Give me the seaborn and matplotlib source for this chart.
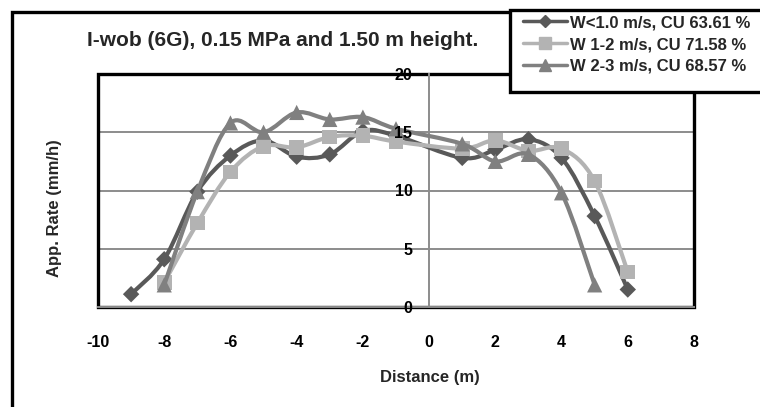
import numpy as np
import pandas as pd
import matplotlib
matplotlib.use("Agg")
import matplotlib.pyplot as plt
from matplotlib.path import Path
from matplotlib.patches import PathPatch, Rectangle
from matplotlib.lines import Line2D
import seaborn as sns

# datos
dist_w1 = [-9, -8, -7, -6, -5, -4, -3, -2, -1, 1, 2, 3, 4, 5, 6]
rate_w1 = [1.1, 4.1, 9.9, 13.0, 14.3, 12.9, 13.1, 15.1, 14.7, 12.8, 13.5, 14.4, 12.8, 7.8, 1.5]

dist_w2 = [-8, -7, -6, -5, -4, -3, -2, -1, 1, 2, 3, 4, 5, 6]
rate_w2 = [2.1, 7.2, 11.6, 13.8, 13.7, 14.6, 14.7, 14.2, 13.6, 14.3, 13.4, 13.6, 10.8, 3.0]

dist_w3 = [-8, -7, -6, -5, -4, -3, -2, -1, 1, 2, 3, 4, 5]
rate_w3 = [1.9, 9.9, 15.8, 15.0, 16.7, 16.1, 16.3, 15.3, 14.0, 12.5, 13.1, 9.8, 1.9]

labels = ["W<1.0 m/s, CU 63.61 %", "W 1-2 m/s, CU 71.58 %", "W 2-3 m/s, CU 68.57 %"]
colors = ["#595959", "#b3b3b3", "#808080"]
markers = ["D", "s", "^"]
msizes = [70, 110, 120]

x_ticks = [-10, -8, -6, -4, -2, 0, 2, 4, 6, 8]
y_ticks = [0, 5, 10, 15, 20]

sns.set_style("white")
plt.rcParams['font.family'] = ['Liberation Sans', 'DejaVu Sans']
plt.rcParams['font.weight'] = 'bold'


def smooth_path(xs, ys):
    # curva suavizada tipo Excel (Bezier con puntos de control)
    pts = np.column_stack([xs, ys]).astype(float)
    n = len(pts)
    verts = [pts[0]]
    codes = [Path.MOVETO]
    for i in range(n - 1):
        p0 = pts[i - 1] if i > 0 else pts[i]
        p1 = pts[i]
        p2 = pts[i + 1]
        p3 = pts[i + 2] if i + 2 < n else pts[i + 1]
        c1 = p1 + (p2 - p0) / 6.0
        c2 = p2 - (p3 - p1) / 6.0
        verts += [c1, c2, p2]
        codes += [Path.CURVE4] * 3
    return Path(verts, codes)


fig = plt.figure(figsize=(7.6, 4.07), dpi=100)

# marco exterior del grafico
fig.patches.append(Rectangle((12 / 760, -0.2), 1.2, 1.2 - 12 / 407,
                             transform=fig.transFigure, fill=False, ec='black', lw=2.4))

ax = fig.add_axes([98 / 760, 1 - 307 / 407, 596 / 760, 233 / 407])

series = [(dist_w1, rate_w1), (dist_w2, rate_w2), (dist_w3, rate_w3)]
for i, (xs, ys) in enumerate(series):
    ax.add_patch(PathPatch(smooth_path(xs, ys), fill=False, ec=colors[i], lw=3.0,
                           zorder=3 + i, capstyle='round', joinstyle='round'))
    df = pd.DataFrame({'x': xs, 'y': ys})
    sns.scatterplot(data=df, x='x', y='y', ax=ax, marker=markers[i], s=msizes[i],
                    color=colors[i], edgecolor='none', zorder=3.5 + i, legend=False)

ax.set_xlim(-10, 8)
ax.set_ylim(0, 20)
ax.set_xticks(x_ticks)
ax.set_yticks(y_ticks)
ax.set_xticklabels([str(v) for v in x_ticks])
ax.set_yticklabels([str(v) for v in y_ticks])

# lineas de rejilla
for v in [5, 10, 15]:
    ax.axhline(v, color='#8c8c8c', lw=1.4, zorder=1)

# eje y cruzando en x = 0
for s in ['top', 'right']:
    ax.spines[s].set_visible(False)
ax.spines['left'].set_position(('data', 0))
ax.spines['left'].set_color('#8c8c8c')
ax.spines['left'].set_linewidth(1.4)
ax.spines['bottom'].set_color('#8c8c8c')
ax.spines['bottom'].set_linewidth(1.4)
ax.tick_params(axis='both', direction='out', color='#8c8c8c', length=4, width=1.4,
               labelsize=11.5, labelcolor='black')
ax.tick_params(axis='x', pad=16)
ax.tick_params(axis='y', pad=8)
for t in ax.get_xticklabels() + ax.get_yticklabels():
    t.set_fontweight('bold')
ax.yaxis.set_zorder(6)

# marco negro del area de trazado
ax.add_patch(Rectangle((0, 0), 1, 1, transform=ax.transAxes, fill=False,
                       ec='black', lw=2.4, clip_on=False, zorder=2))

ax.set_xlabel('Distance (m)', fontsize=12, fontweight='bold')
ax.xaxis.set_label_coords((430 - 98) / 596, (307 - 370) / 233)
ax.set_ylabel('App. Rate (mm/h)', fontsize=12, fontweight='bold')
ax.yaxis.set_label_coords((62 - 98) / 596, (307 - 208) / 233)

fig.text(283 / 760, 1 - 40 / 407, 'I-wob (6G), 0.15 MPa and 1.50 m height.',
         ha='center', va='center', fontsize=15, fontweight='bold')

# caja de leyenda
fig.patches.append(Rectangle((510 / 760, 1 - 92 / 407), 0.5, 82 / 407,
                             transform=fig.transFigure, fc='white', ec='black', lw=2.4,
                             zorder=5))
handles = [Line2D([0], [0], color=colors[i], lw=2.5, marker=markers[i],
                  markersize=[6, 8, 8][i]) for i in range(3)]
leg = fig.legend(handles, labels, loc='upper left', bbox_to_anchor=(520 / 760, 1 - 12 / 407),
                 frameon=False, fontsize=12, handlelength=2.6, handletextpad=0.2,
                 labelspacing=0.4, borderaxespad=0, borderpad=0.2)
leg.set_zorder(6)
for t in leg.get_texts():
    t.set_fontweight('bold')

fig.savefig('out.png', dpi=100)
